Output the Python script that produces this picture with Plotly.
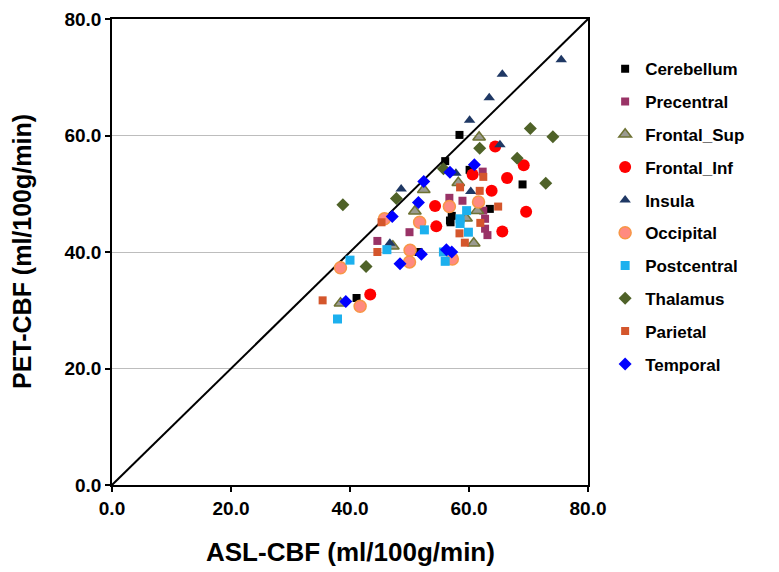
import plotly.graph_objects as go

# ---- data (ASL-CBF x, PET-CBF y) ----
cerebellum_x = [58.4, 56.0, 60.1, 69.0, 63.5, 57.1, 56.9, 41.1, 51.5, 56.8]
cerebellum_y = [60.1, 55.6, 54.1, 51.6, 47.4, 46.2, 45.1, 32.1, 40.0, 45.4]

precentral_x = [56.7, 58.9, 62.4, 62.7, 50.0, 62.7, 63.1, 44.6, 62.3]
precentral_y = [49.3, 48.8, 47.1, 45.7, 43.4, 44.0, 42.9, 41.9, 53.8]

frontal_sup_x = [61.7, 58.2, 52.4, 50.9, 61.4, 60.8, 47.2, 38.4, 59.5]
frontal_sup_y = [59.7, 51.9, 50.7, 47.0, 47.1, 41.5, 41.0, 31.2, 45.8]

frontal_inf_x = [64.4, 69.2, 60.6, 66.4, 63.8, 54.3, 69.6, 54.5, 65.6, 43.4]
frontal_inf_y = [58.1, 54.9, 53.3, 52.7, 50.5, 47.9, 46.9, 44.4, 43.5, 32.7]

insula_x = [75.5, 65.6, 63.4, 60.1, 65.2, 57.8, 60.3, 48.6, 46.7]
insula_y = [73.0, 70.5, 66.5, 62.6, 58.4, 53.5, 50.4, 50.8, 41.5]

occipital_x = [61.6, 56.7, 45.8, 51.7, 50.1, 50.0, 38.4, 57.2, 41.7]
occipital_y = [48.6, 47.8, 45.7, 45.1, 40.3, 38.3, 37.3, 38.8, 30.7]

postcentral_x = [59.6, 58.5, 52.5, 59.9, 46.2, 40.0, 55.7, 56.0, 37.9, 58.5]
postcentral_y = [47.1, 44.9, 43.8, 43.4, 40.4, 38.6, 40.0, 38.4, 28.5, 45.7]

thalamus_x = [70.3, 74.1, 61.8, 68.1, 55.7, 72.9, 47.8, 38.8, 42.7]
thalamus_y = [61.2, 59.8, 57.8, 56.1, 54.3, 51.8, 49.2, 48.1, 37.5]

parietal_x = [62.4, 61.8, 58.5, 45.3, 64.9, 61.9, 58.4, 59.3, 44.6, 35.4]
parietal_y = [52.9, 50.5, 51.1, 45.1, 47.8, 45.0, 43.2, 41.6, 40.0, 31.7]

temporal_x = [60.9, 56.8, 52.4, 51.5, 47.1, 52.0, 48.4, 56.2, 57.1, 39.3]
temporal_y = [55.0, 53.7, 52.1, 48.5, 46.1, 39.6, 38.0, 40.4, 40.0, 31.5]

axis_ticks = [0, 20, 40, 60, 80]
axis_tick_labels = ["0.0", "20.0", "40.0", "60.0", "80.0"]

series = [
    ("Cerebellum", cerebellum_x, cerebellum_y, "square", 8, "#000000", "#000000"),
    ("Precentral", precentral_x, precentral_y, "square", 8, "#993366", "#993366"),
    ("Frontal_Sup", frontal_sup_x, frontal_sup_y, "triangle-up", 11, "#9a9a90", "#6e7233"),
    ("Frontal_Inf", frontal_inf_x, frontal_inf_y, "circle", 12, "#ff0000", "#ff0000"),
    ("Insula", insula_x, insula_y, "triangle-up", 10, "#1f3864", "#1f3864"),
    ("Occipital", occipital_x, occipital_y, "circle", 12, "#ff8a80", "#f79646"),
    ("Postcentral", postcentral_x, postcentral_y, "square", 9, "#1cb0ee", "#1cb0ee"),
    ("Thalamus", thalamus_x, thalamus_y, "diamond", 10, "#4f6228", "#4f6228"),
    ("Parietal", parietal_x, parietal_y, "square", 8, "#d4562c", "#d4562c"),
    ("Temporal", temporal_x, temporal_y, "diamond", 10, "#0000ff", "#0000ff"),
]

fig = go.Figure()

# identity line
fig.add_trace(go.Scatter(x=[0, 80], y=[0, 80], mode="lines",
                         line=dict(color="black", width=2),
                         showlegend=False, hoverinfo="skip"))

for name, xs, ys, sym, size, fill, edge in series:
    fig.add_trace(go.Scatter(
        x=xs, y=ys, mode="markers", name=name, legendgroup=name,
        marker=dict(symbol=sym, size=size, color=fill,
                    line=dict(color=edge, width=1.5 if edge != fill else 0)),
    ))

font_main = "Liberation Sans, Arial, sans-serif"

fig.update_layout(
    width=779, height=572,
    margin=dict(l=104, r=199, t=11, b=95),
    paper_bgcolor="white", plot_bgcolor="white",
    font=dict(family=font_main, color="black"),
    showlegend=True,
    legend=dict(x=1.036, y=0.931, xanchor="left", yanchor="top",
                font=dict(size=17, family=font_main, weight="bold"),
                tracegroupgap=7.7, itemsizing="trace",
                bgcolor="rgba(0,0,0,0)"),
    xaxis=dict(range=[0, 80], tickvals=axis_ticks, ticktext=axis_tick_labels,
               showgrid=False, zeroline=False, automargin=False,
               ticklabeloverflow="allow",
               showline=True, linecolor="black", linewidth=1.5, mirror=True,
               ticks="outside", ticklen=5, tickcolor="black", tickwidth=1.5,
               tickfont=dict(size=19, weight="bold")),
    yaxis=dict(range=[0, 80], tickvals=axis_ticks, ticktext=axis_tick_labels,
               showgrid=True, gridcolor="#bdbdbd", gridwidth=1, zeroline=False,
               automargin=False, ticklabeloverflow="allow",
               showline=True, linecolor="black", linewidth=1.5, mirror=True,
               ticks="outside", ticklen=5, tickcolor="black", tickwidth=1.5,
               tickfont=dict(size=19, weight="bold")),
    annotations=[
        dict(text="ASL-CBF (ml/100g/min)", xref="paper", yref="paper",
             x=0.502, y=-0.144, xanchor="center", yanchor="middle",
             showarrow=False, font=dict(size=26, weight="bold")),
        dict(text="PET-CBF (ml/100g/min)", xref="paper", yref="paper",
             x=-0.189, y=0.50, xanchor="center", yanchor="middle",
             textangle=-90, showarrow=False, font=dict(size=25, weight="bold")),
    ],
)

fig.write_html("out.html")
